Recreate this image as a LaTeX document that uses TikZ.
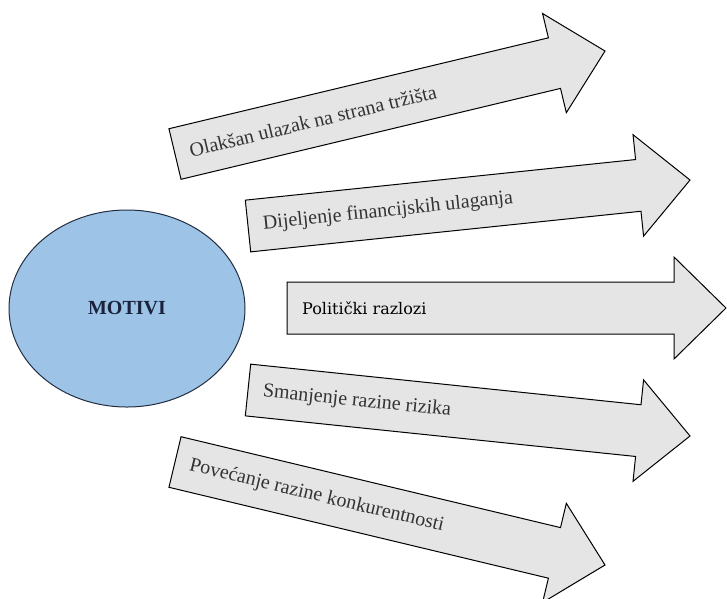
\documentclass[tikz,border=0pt]{standalone}
\usepackage{fontspec}
\setmainfont{Liberation Serif}
\newfontfamily\slabfont{DejaVu Serif}
\usepackage{tikz}
\usetikzlibrary{positioning,shapes.geometric}

\definecolor{motiviplava}{RGB}{157,195,230}
\definecolor{motivirub}{RGB}{35,45,65}
\definecolor{motivitekst}{RGB}{25,35,60}
\definecolor{strelicasiva}{RGB}{229,229,229}

% name, tail, angle, length, text
\newcommand{\strelica}[5]{%
  \begin{scope}[shift={#2},rotate=#3]
    \draw[strelicaoblik] (0,-26) -- (#4-52,-26) -- (#4-52,-51) -- (#4,0)
      -- (#4-52,51) -- (#4-52,26) -- (0,26) -- cycle;
    \node[razlog] (#1) at (15,0) {#5};
  \end{scope}}

\begin{document}
\begin{tikzpicture}[x=1pt,y=-1pt,
    strelicaoblik/.style={draw=black,line width=1pt,fill=strelicasiva,line join=miter},
    razlog/.style={anchor=west,transform shape,inner sep=0pt,text=black!80,
      font=\fontsize{20}{24}\selectfont}]
  \useasboundingbox (0,0) rectangle (727,598);
  \node[ellipse,draw=motivirub,line width=1pt,fill=motiviplava,
    minimum width=236,minimum height=197,text=motivitekst,
    font=\bfseries\fontsize{20}{24}\selectfont] (motivi) at (127,308.5) {MOTIVI};

  \strelica{olaksan}{(175,154)}{13.47}{442.2}{Olakšan ulazak na strana tržišta}
  \strelica{dijeljenje}{(248,226)}{5.94}{444.4}{Dijeljenje financijskih ulaganja}
  \strelica{politicki}{(287,308)}{0}{439}{\slabfont\fontsize{16}{20}\selectfont\color{black}Politički razlozi}
  \strelica{smanjenje}{(248,390)}{-5.94}{444.4}{Smanjenje razine rizika}
  \strelica{povecanje}{(175,462)}{-13.47}{442.2}{Povećanje razine konkurentnosti}
\end{tikzpicture}
\end{document}
